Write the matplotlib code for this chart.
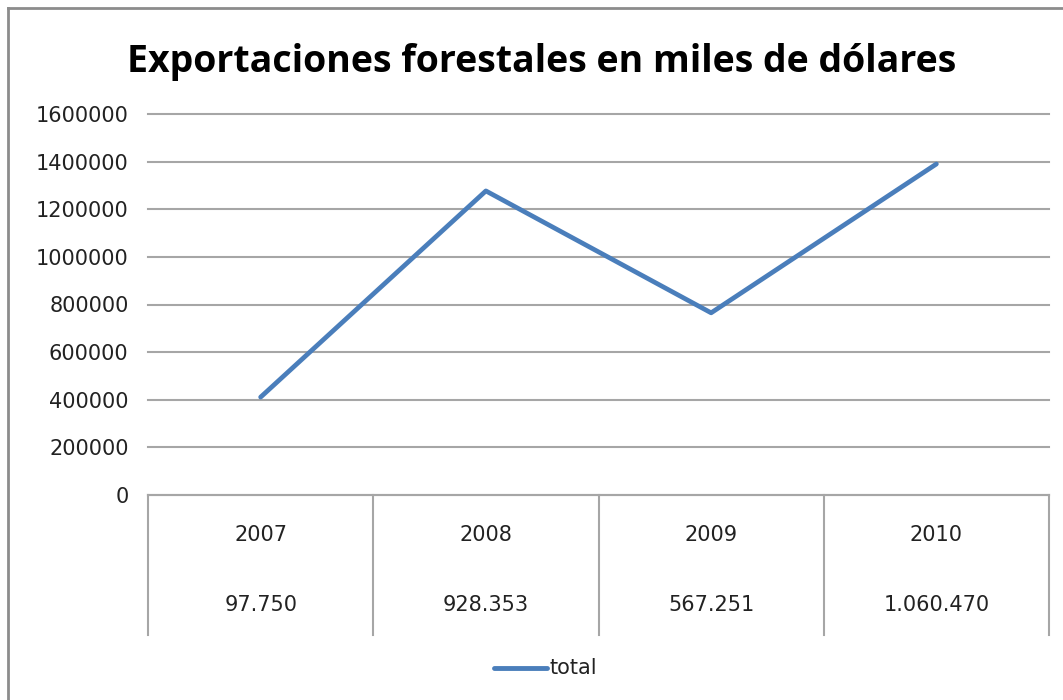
"""Line chart of forest exports (thousand USD) with an Excel-style data table axis."""

import matplotlib

matplotlib.use("Agg")
import matplotlib.pyplot as plt
from matplotlib.lines import Line2D

years = ["2007", "2008", "2009", "2010"]
table_values = ["97.750", "928.353", "567.251", "1.060.470"]
total = [411000, 1277000, 765000, 1390000]
y_ticks = [0, 200000, 400000, 600000, 800000, 1000000, 1200000, 1400000, 1600000]

W, H = 1063, 700
GRID = "#a6a6a6"
BLUE = "#4a7ebb"
FS = 15

fig = plt.figure(figsize=(W / 100, H / 100), dpi=100)
left, right, top, bottom = 148, 1049, 114, 495
ax = fig.add_axes([left / W, 1 - bottom / H, (right - left) / W, (bottom - top) / H])

x = list(range(len(years)))
ax.plot(x, total, color=BLUE, lw=3.4, solid_capstyle="round", zorder=3)

ax.set_xlim(-0.5, len(years) - 0.5)
ax.set_ylim(0, 1600000)
ax.set_yticks(y_ticks)
ax.set_yticklabels([str(v) for v in y_ticks], fontsize=FS, color="#222222")
ax.tick_params(axis="y", length=0, pad=14)
ax.set_xticks([])
for side in ("left", "right", "top"):
    ax.spines[side].set_visible(False)
ax.spines["bottom"].set_color(GRID)
ax.spines["bottom"].set_linewidth(1.5)
ax.grid(axis="y", color=GRID, lw=1.5)
for gl in ax.get_ygridlines():
    gl.set_clip_on(False)
ax.set_axisbelow(True)

# data table under the plot
trans = ax.get_xaxis_transform()
tbl_bottom = (bottom - 635) / (bottom - top)
for b in range(len(years) + 1):
    ax.plot([b - 0.5, b - 0.5], [0, tbl_bottom], transform=trans, color=GRID,
            lw=1.5, clip_on=False)
for i, (yr, val) in enumerate(zip(years, table_values)):
    ax.text(i, (bottom - 535) / (bottom - top), yr, transform=trans, ha="center",
            va="center", fontsize=FS, color="#222222")
    ax.text(i, (bottom - 605) / (bottom - top), val, transform=trans, ha="center",
            va="center", fontsize=FS, color="#222222")

# title
fig.text(542 / W, 1 - 62 / H, "Exportaciones forestales en miles de dólares",
         ha="center", va="center", fontsize=27, fontweight="bold",
         family="Open Sans", color="black")

# legend
fig.add_artist(Line2D([494 / W, 547 / W], [1 - 668 / H, 1 - 668 / H], color=BLUE,
                      lw=3.5, solid_capstyle="round"))
fig.text(549 / W, 1 - 668 / H, "total", ha="left", va="center", fontsize=FS,
         color="#222222")

# chart frame
fig.add_artist(Line2D([8 / W, 8 / W], [0, 1 - 8 / H], color="#8c8c8c", lw=2))
fig.add_artist(Line2D([8 / W, 1], [1 - 8 / H, 1 - 8 / H], color="#8c8c8c", lw=2))

fig.savefig("out.png", dpi=100)
